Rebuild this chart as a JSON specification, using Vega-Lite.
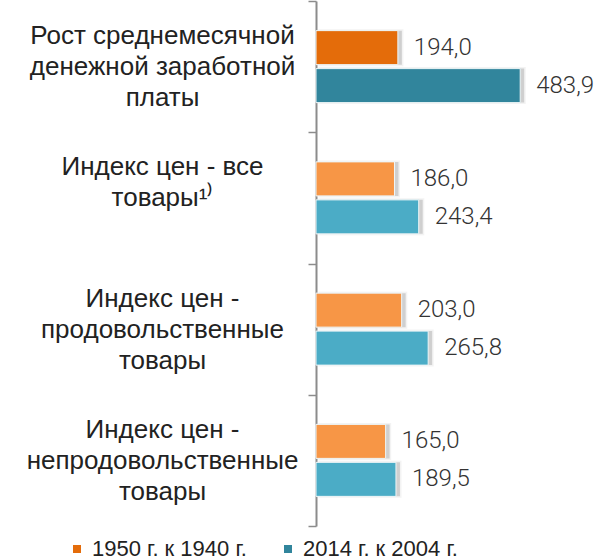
{
  "$schema": "https://vega.github.io/schema/vega-lite/v6.json",
  "width": 292,
  "height": 525,
  "autosize": {"type": "none"},
  "padding": {"left": 316, "top": 1, "right": 0, "bottom": 34},
  "background": "white",
  "config": {"view": {"stroke": null}},
  "data": {
    "values": [
      {"cat": "Рост среднемесячной|денежной заработной|платы", "series": "1950 г. к 1940 г.", "value": 194.0, "txt": "194,0"},
      {"cat": "Рост среднемесячной|денежной заработной|платы", "series": "2014 г. к 2004 г.", "value": 483.9, "txt": "483,9"},
      {"cat": "Индекс цен - все|товары¹⁾", "series": "1950 г. к 1940 г.", "value": 186.0, "txt": "186,0"},
      {"cat": "Индекс цен - все|товары¹⁾", "series": "2014 г. к 2004 г.", "value": 243.4, "txt": "243,4"},
      {"cat": "Индекс цен -|продовольственные|товары", "series": "1950 г. к 1940 г.", "value": 203.0, "txt": "203,0"},
      {"cat": "Индекс цен -|продовольственные|товары", "series": "2014 г. к 2004 г.", "value": 265.8, "txt": "265,8"},
      {"cat": "Индекс цен -|непродовольственные|товары", "series": "1950 г. к 1940 г.", "value": 165.0, "txt": "165,0"},
      {"cat": "Индекс цен -|непродовольственные|товары", "series": "2014 г. к 2004 г.", "value": 189.5, "txt": "189,5"}
    ]
  },
  "encoding": {
    "y": {
      "field": "cat",
      "type": "nominal",
      "sort": null,
      "scale": {"paddingInner": 0, "paddingOuter": 0},
      "axis": {
        "title": null,
        "domainColor": "#8c8c8c",
        "domainWidth": 2,
        "tickColor": "#8c8c8c",
        "tickWidth": 1.5,
        "tickSize": 8,
        "tickBand": "extent",
        "labelExpr": "split(datum.label, '|')",
        "labelAlign": "center",
        "labelBaseline": "middle",
        "labelPadding": 146,
        "labelOffset": -31,
        "labelFont": "Liberation Sans",
        "labelFontSize": 26,
        "labelColor": "#222222",
        "labelLineHeight": 31,
        "labelLimit": 0
      }
    },
    "yOffset": {"field": "series", "type": "nominal", "sort": null, "scale": {"paddingInner": 0.105, "paddingOuter": 0.78}},
    "x": {"field": "value", "type": "quantitative", "scale": {"domain": [0, 692]}, "axis": null}
  },
  "layer": [
    {
      "mark": {"type": "bar", "color": "#7a7a7a", "opacity": 0.35, "xOffset": 4, "stroke": "#7a7a7a", "strokeWidth": 3, "strokeOpacity": 0.25}
    },
    {
      "transform": [{"filter": "datum.cat == 'Рост среднемесячной|денежной заработной|платы'"}],
      "mark": {"type": "bar", "stroke": "#eef6f8", "strokeWidth": 1},
      "encoding": {
        "color": {
          "field": "series",
          "type": "nominal",
          "sort": null,
          "scale": {"domain": ["1950 г. к 1940 г.", "2014 г. к 2004 г."], "range": ["#e46c0a", "#31859c"]},
          "legend": {
            "orient": "none",
            "direction": "horizontal",
            "legendX": -250,
            "legendY": 537,
            "title": null,
            "symbolType": "square",
            "symbolSize": 64,
            "symbolStrokeWidth": 0,
            "labelFont": "Liberation Sans",
            "labelFontSize": 22,
            "labelColor": "#222222",
            "labelLimit": 0,
            "columnPadding": 30,
            "labelOffset": 4
          }
        }
      }
    },
    {
      "transform": [{"filter": "datum.cat != 'Рост среднемесячной|денежной заработной|платы'"}],
      "mark": {"type": "bar", "stroke": "#eef6f8", "strokeWidth": 1},
      "encoding": {
        "color": {
          "condition": {"test": "datum.series == '1950 г. к 1940 г.'", "value": "#f79646"},
          "value": "#4bacc6"
        }
      }
    },
    {
      "mark": {"type": "text", "align": "left", "baseline": "middle", "dx": 16, "font": "Roboto", "fontWeight": 300, "fontSize": 24, "color": "#333333"},
      "encoding": {"text": {"field": "txt", "type": "nominal"}}
    }
  ]
}
